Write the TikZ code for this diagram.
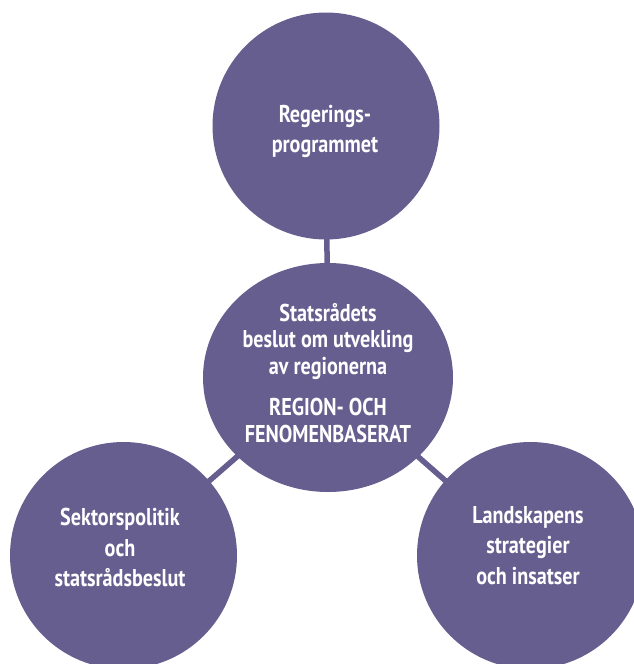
\documentclass[tikz,border=0pt]{standalone}
\usepackage{fontspec}
\newfontfamily\lblfont{PT Sans}[FakeStretch=0.83,BoldFeatures={FakeStretch=0.83}]
\usetikzlibrary{shapes.geometric,backgrounds}
\definecolor{hubpurple}{HTML}{655E8F}
\tikzset{
  bubble/.style={circle,fill=hubpurple,draw=none,minimum size=227pt,inner sep=0pt},
  hub/.style={ellipse,fill=hubpurple,draw=none,minimum width=250pt,minimum height=229pt,inner sep=0pt},
  outertext/.style={text=white,align=center,inner sep=0pt,font={\lblfont\bfseries\fontsize{24.3}{30.5}\selectfont}},
  hubtext/.style={text=white,align=center,inner sep=0pt,font={\lblfont\bfseries\fontsize{24.3}{26.5}\selectfont}},
  link/.style={draw=hubpurple,line width=5.5pt}
}
\begin{document}
\begin{tikzpicture}[x=1pt,y=-1pt]
\useasboundingbox (0,0) rectangle (634,664);
\clip (0,0) rectangle (634,664);
\node[bubble] (top) at (326,126) {};
\node[hub] (hub) at (328,377.5) {};
\node[bubble] (left) at (123.5,555.5) {};
\node[bubble] (right) at (530.5,555.5) {};
\begin{scope}[on background layer]
\draw[link] (hub.center) -- (top.center);
\draw[link] (hub.center) -- (left.center);
\draw[link] (hub.center) -- (right.center);
\end{scope}
\node[outertext] (toptext) at (325,131.5) {Regerings-\\programmet};
\node[hubtext] (hubtext) at (328,373) {Statsrådets\\beslut om utvekling\\av regionerna\\[15pt]REGION- OCH\\FENOMENBASERAT};
\node[outertext] (lefttext) at (120,547.5) {Sektorspolitik\\och\\statsrådsbeslut};
\node[outertext] (righttext) at (528,545.5) {Landskapens\\strategier\\och insatser};
\end{tikzpicture}
\end{document}
